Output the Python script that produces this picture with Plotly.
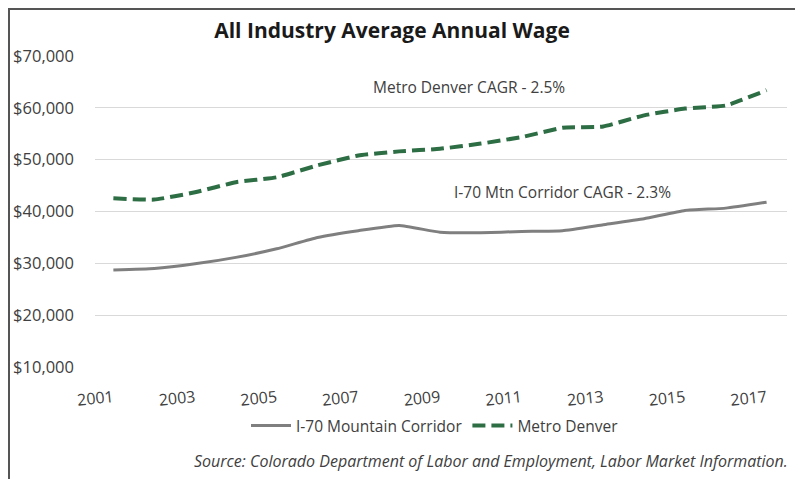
import plotly.graph_objects as go

years = list(range(2001, 2018))
i70_wage = [28700, 29000, 29900, 31150, 32800, 35000, 36300, 37300, 36000,
            35900, 36150, 36300, 37450, 38600, 40200, 40650, 41800]
denver_wage = [42550, 42300, 43700, 45650, 46600, 48900, 50800, 51600, 52100,
               53100, 54350, 56150, 56400, 58550, 59850, 60450, 63400]
tick_years = list(range(2001, 2018, 2))
y_ticks = [10000, 20000, 30000, 40000, 50000, 60000, 70000]

FONT = "Open Sans"
TXT = "#404040"
# page body has an 8px margin, so the figure is 8px smaller than the window
W, H = 795, 471

fig = go.Figure()
fig.add_trace(go.Scatter(
    x=years, y=i70_wage, name="I-70 Mountain Corridor", mode="lines",
    line=dict(color="#7f7f7f", width=3, shape="spline", smoothing=0.4),
))
fig.add_trace(go.Scatter(
    x=years, y=denver_wage, name="Metro Denver", mode="lines",
    line=dict(color="#2e6e45", width=4, dash="13px,6px", shape="spline", smoothing=0.4),
))

fig.add_annotation(x=2009.7, y=64000, text="Metro Denver CAGR - 2.5%", showarrow=False,
                   font=dict(family=FONT, size=15.5, color=TXT))
fig.add_annotation(x=2012.0, y=43700, text="I-70 Mtn Corridor CAGR - 2.3%", showarrow=False,
                   font=dict(family=FONT, size=15.5, color=TXT))

# source line
fig.add_annotation(xref="paper", yref="paper", x=(782 - 87) / 692, y=(359 - 453) / 311,
                   xanchor="right", yanchor="middle", showarrow=False,
                   text="<i>Source: Colorado Department of Labor and Employment, Labor Market Information.</i>",
                   font=dict(family=FONT, size=16, color=TXT))

# outer frame
fig.add_shape(type="rect", xref="paper", yref="paper",
              x0=(1 - 87) / 692, x1=(792 - 87) / 692, y0=(359 - 490) / 311, y1=(359 - 1) / 311,
              line=dict(color="#555555", width=2), layer="below")

fig.update_layout(
    width=W, height=H,
    margin=dict(l=87, r=16, t=48, b=112),
    paper_bgcolor="white", plot_bgcolor="white",
    font=dict(family=FONT, color=TXT),
    title=dict(text="<b>All Industry Average Annual Wage</b>", x=384 / W, xanchor="center",
               y=1 - 23 / H, yanchor="middle", font=dict(family=FONT, size=21, color="#1a1a1a")),
    xaxis=dict(range=[2000.55, 2017.5], tickvals=tick_years, tickangle=-6,
               showgrid=False, zeroline=False, showline=False, automargin=False,
               ticklabelstandoff=18, tickfont=dict(size=16, color=TXT)),
    yaxis=dict(range=[10000, 70000], tickvals=y_ticks, tickformat="$,.0f",
               gridcolor="#d9d9d9", gridwidth=1, zeroline=False, showline=False, automargin=False,
               tickfont=dict(size=16.5, color=TXT), ticklabelstandoff=20),
    legend=dict(orientation="h", x=427 / W, xref="container", xanchor="center",
                y=1 - 418 / H, yref="container", yanchor="middle", bgcolor="rgba(0,0,0,0)",
                font=dict(family=FONT, size=15.5, color=TXT), itemwidth=40),
    showlegend=True,
)

fig.write_html("out.html")
